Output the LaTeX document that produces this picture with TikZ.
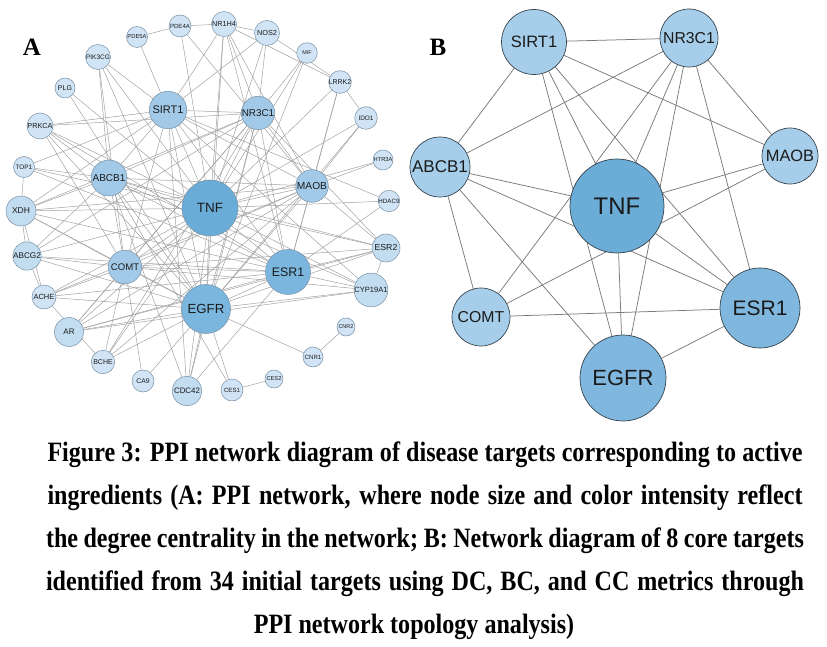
\documentclass[tikz,border=0pt]{standalone}
\usepackage{fontspec}
\setmainfont{Liberation Serif}
\setsansfont{Liberation Sans}
\newfontfamily\capfont{Liberation Serif}[FakeStretch=0.86]
\pgfdeclarelayer{bg}
\pgfsetlayers{bg,main}
\definecolor{aL}{HTML}{D0E4F5}
\definecolor{aLL}{HTML}{C2DCF0}
\definecolor{aM}{HTML}{A2CAE8}
\definecolor{aH}{HTML}{7BB6DE}
\definecolor{aT}{HTML}{6AACD8}
\definecolor{bordA}{HTML}{7890A3}
\definecolor{bM}{HTML}{A6CEEA}
\definecolor{bH}{HTML}{7FB7DE}
\definecolor{bT}{HTML}{6BADD7}
\definecolor{bordB}{HTML}{37434D}
\definecolor{edgeAc}{HTML}{A2A2A2}
\definecolor{edgeBc}{HTML}{7A7A7A}
\definecolor{txtc}{HTML}{1A1A1A}
\begin{document}
\begin{tikzpicture}[x=1pt,y=-1pt,
  anode/.style 2 args={circle, inner sep=0pt, minimum size=#1, draw=bordA, line width=0.5pt, text=txtc, font=\sffamily\fontsize{#2}{#2}\selectfont},
  bnode/.style 2 args={circle, inner sep=0pt, minimum size=#1, draw=bordB, line width=0.7pt, text=txtc, font=\sffamily\fontsize{#2}{#2}\selectfont},
  aedge/.style={draw=edgeAc, line width=0.5pt},
  bedge/.style={draw=edgeBc, line width=0.75pt},
  panel/.style={font=\bfseries\fontsize{25}{25}\selectfont, text=black, inner sep=0pt},
  capline/.style={anchor=base, inner sep=0pt, text=black, font=\capfont\bfseries\fontsize{28}{28}\selectfont}
]
\useasboundingbox (0,0) rectangle (827,647);

% ---------- Panel A ----------
\node[panel] (labA) at (32,47) {A};
\node[anode={21pt}{5.8}, fill=aL] (aPDE5A) at (137,37) {PDE5A};
\node[anode={22pt}{6}, fill=aL] (aPDE4A) at (180,26) {PDE4A};
\node[anode={25pt}{7.3}, fill=aL] (aNR1H4) at (224,24) {NR1H4};
\node[anode={25pt}{7.3}, fill=aL] (aNOS2) at (267,33) {NOS2};
\node[anode={20.6pt}{5.4}, fill=aL] (aMIF) at (307,53) {MIF};
\node[anode={22pt}{6.9}, fill=aL] (aLRRK2) at (340,82) {LRRK2};
\node[anode={22.6pt}{6.4}, fill=aL] (aIDO1) at (366,118) {IDO1};
\node[anode={20pt}{5.7}, fill=aL] (aHTR3A) at (383,160) {HTR3A};
\node[anode={21pt}{6.2}, fill=aL] (aHDAC9) at (389,201) {HDAC9};
\node[anode={28pt}{8.7}, fill=aLL] (aESR2) at (386,248) {ESR2};
\node[anode={28pt}{7.6}, fill=aLL] (aCYP19A1) at (371,290) {CYP19A1};
\node[anode={18pt}{5.5}, fill=aL] (aCNR2) at (346,327) {CNR2};
\node[anode={20pt}{6.1}, fill=aL] (aCNR1) at (313,357) {CNR1};
\node[anode={18pt}{5.7}, fill=aL] (aCES2) at (274,379) {CES2};
\node[anode={22pt}{6.1}, fill=aL] (aCES1) at (232,390) {CES1};
\node[anode={29.4pt}{7.9}, fill=aLL] (aCDC42) at (187,391) {CDC42};
\node[anode={22pt}{6.8}, fill=aL] (aCA9) at (143,381) {CA9};
\node[anode={23.4pt}{7}, fill=aL] (aBCHE) at (103,362) {BCHE};
\node[anode={29pt}{8}, fill=aLL] (aAR) at (69,332) {AR};
\node[anode={24pt}{7.5}, fill=aL] (aACHE) at (44,297) {ACHE};
\node[anode={28pt}{8.2}, fill=aLL] (aABCG2) at (27,256) {ABCG2};
\node[anode={30pt}{8.5}, fill=aLL] (aXDH) at (21,211) {XDH};
\node[anode={21pt}{6.4}, fill=aL] (aTOP1) at (24,167) {TOP1};
\node[anode={26pt}{7.3}, fill=aL] (aPRKCA) at (40,126) {PRKCA};
\node[anode={20pt}{7}, fill=aL] (aPLG) at (65,88) {PLG};
\node[anode={25pt}{6.5}, fill=aL] (aPIK3CG) at (98,57) {PIK3CG};
\node[anode={37.4pt}{11}, fill=aM] (aSIRT1) at (168,110) {SIRT1};
\node[anode={33.4pt}{9.9}, fill=aM] (aNR3C1) at (258,113) {NR3C1};
\node[anode={36pt}{10}, fill=aM] (aABCB1) at (109,178) {ABCB1};
\node[anode={32.6pt}{10.2}, fill=aM] (aMAOB) at (312,186) {MAOB};
\node[anode={33.4pt}{9.6}, fill=aM] (aCOMT) at (125,267) {COMT};
\node[anode={45pt}{12.4}, fill=aH] (aESR1) at (288,272) {ESR1};
\node[anode={49pt}{13.2}, fill=aH] (aEGFR) at (206,309) {EGFR};
\node[anode={56pt}{13.5}, fill=aT] (aTNF) at (210,208) {TNF};

\begin{pgfonlayer}{bg}
\foreach \u/\v in {
 TNF/SIRT1, TNF/NR3C1, TNF/ABCB1, TNF/MAOB, TNF/COMT, TNF/ESR1, TNF/EGFR, TNF/PDE4A, TNF/PIK3CG, TNF/PRKCA,
 TNF/TOP1, TNF/XDH, TNF/ABCG2, TNF/ACHE, TNF/AR, TNF/BCHE, TNF/CDC42, TNF/NOS2, TNF/NR1H4, TNF/MIF,
 TNF/LRRK2, TNF/IDO1, TNF/HDAC9, TNF/ESR2, TNF/CYP19A1, TNF/PLG, TNF/HTR3A,
 EGFR/SIRT1, EGFR/NR3C1, EGFR/ABCB1, EGFR/MAOB, EGFR/COMT, EGFR/ESR1, EGFR/PIK3CG, EGFR/PLG, EGFR/PRKCA,
 EGFR/XDH, EGFR/ABCG2, EGFR/ACHE, EGFR/AR, EGFR/BCHE, EGFR/CA9, EGFR/CDC42, EGFR/CES1, EGFR/CNR1,
 EGFR/ESR2, EGFR/CYP19A1, EGFR/NR1H4, EGFR/MIF, EGFR/IDO1,
 ESR1/SIRT1, ESR1/NR3C1, ESR1/ABCB1, ESR1/MAOB, ESR1/COMT, ESR1/ESR2, ESR1/CYP19A1, ESR1/AR, ESR1/XDH,
 ESR1/PRKCA, ESR1/HDAC9, ESR1/NR1H4, ESR1/ACHE, ESR1/CDC42, ESR1/TOP1, ESR1/LRRK2, ESR1/ABCG2,
 SIRT1/NR3C1, SIRT1/ABCB1, SIRT1/MAOB, SIRT1/PDE5A, SIRT1/PIK3CG, SIRT1/PRKCA, SIRT1/XDH, SIRT1/TOP1,
 SIRT1/NR1H4, SIRT1/NOS2, SIRT1/CDC42, SIRT1/COMT, SIRT1/HDAC9, SIRT1/CYP19A1,
 NR3C1/ABCB1, NR3C1/MAOB, NR3C1/COMT, NR3C1/NR1H4, NR3C1/NOS2, NR3C1/MIF, NR3C1/ABCG2, NR3C1/XDH,
 NR3C1/ESR2, NR3C1/AR, NR3C1/CDC42, NR3C1/BCHE, NR3C1/PRKCA,
 ABCB1/COMT, ABCB1/MAOB, ABCB1/ABCG2, ABCB1/XDH, ABCB1/TOP1, ABCB1/PRKCA, ABCB1/CYP19A1, ABCB1/ESR2,
 ABCB1/CDC42, ABCB1/CES1, ABCB1/PIK3CG,
 MAOB/COMT, MAOB/LRRK2, MAOB/IDO1, MAOB/HTR3A, MAOB/ACHE, MAOB/BCHE, MAOB/XDH, MAOB/NR1H4, MAOB/ESR2,
 MAOB/AR, MAOB/PDE4A,
 COMT/ACHE, COMT/BCHE, COMT/AR, COMT/XDH, COMT/ABCG2, COMT/PIK3CG, COMT/CYP19A1, COMT/ESR2, COMT/CA9, COMT/PRKCA,
 XDH/ABCG2, XDH/TOP1, ESR2/CYP19A1, CNR1/CNR2, CES1/CES2, PDE4A/PDE5A, PDE4A/NR1H4, NR1H4/NOS2,
 NOS2/LRRK2, NR1H4/LRRK2, LRRK2/IDO1, ACHE/BCHE, AR/ESR2, AR/CYP19A1, ABCG2/ACHE, XDH/ACHE}
 \draw[aedge] (a\u) -- (a\v);
\end{pgfonlayer}

% ---------- Panel B ----------
\node[panel] (labB) at (438,47) {B};
\node[bnode={65pt}{16.5}, fill=bM] (bSIRT1) at (534,42) {SIRT1};
\node[bnode={58pt}{15.8}, fill=bM] (bNR3C1) at (689,38) {NR3C1};
\node[bnode={60pt}{17}, fill=bM] (bABCB1) at (440,167) {ABCB1};
\node[bnode={56pt}{16.4}, fill=bM] (bMAOB) at (790,156) {MAOB};
\node[bnode={94pt}{24}, fill=bT] (bTNF) at (617,206) {TNF};
\node[bnode={58pt}{15.8}, fill=bM] (bCOMT) at (481,317) {COMT};
\node[bnode={80pt}{21}, fill=bH] (bESR1) at (760,308) {ESR1};
\node[bnode={86pt}{22}, fill=bH] (bEGFR) at (623,378) {EGFR};

\begin{pgfonlayer}{bg}
\foreach \u/\v in {
 SIRT1/NR3C1, SIRT1/ABCB1, SIRT1/TNF, SIRT1/EGFR, SIRT1/ESR1, SIRT1/MAOB,
 NR3C1/ABCB1, NR3C1/TNF, NR3C1/EGFR, NR3C1/ESR1, NR3C1/MAOB, NR3C1/COMT,
 ABCB1/TNF, ABCB1/ESR1, ABCB1/COMT, ABCB1/EGFR,
 MAOB/TNF, MAOB/COMT, TNF/ESR1, TNF/EGFR, COMT/ESR1, EGFR/ESR1}
 \draw[bedge] (b\u) -- (b\v);
\end{pgfonlayer}

% ---------- Caption ----------
\node[capline] (cap1) at (425,461) {\makebox[755pt][s]{Figure 3: PPI network diagram of disease targets corresponding to active}};
\node[capline] (cap2) at (425,504) {\makebox[755pt][s]{ingredients (A: PPI network, where node size and color intensity reflect}};
\node[capline] (cap3) at (425,547) {\makebox[758pt][s]{the degree centrality in the network; B: Network diagram of 8 core targets}};
\node[capline] (cap4) at (425,590) {\makebox[758pt][s]{identified from 34 initial targets using DC, BC, and CC metrics through}};
\node[capline] (cap5) at (414,633) {PPI network topology analysis)};
\end{tikzpicture}
\end{document}
